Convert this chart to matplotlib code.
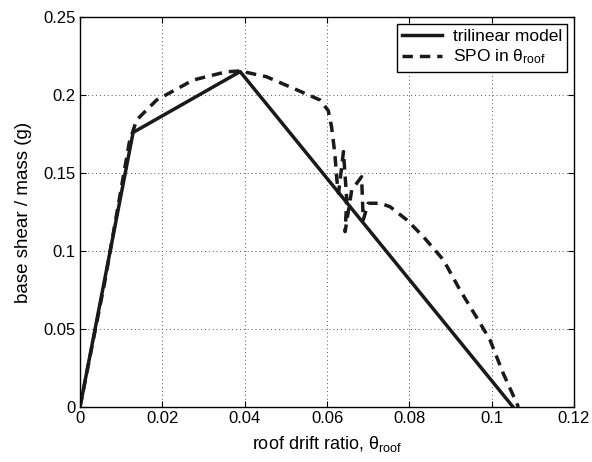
import matplotlib
matplotlib.use("Agg")
import matplotlib.pyplot as plt

plt.rcParams['font.family'] = ['Liberation Sans', 'DejaVu Sans']
plt.rcParams['mathtext.fontset'] = 'custom'
plt.rcParams['mathtext.rm'] = 'Liberation Sans'
plt.rcParams['mathtext.it'] = 'Liberation Sans'

tri_x = [0.0, 0.0129, 0.0389, 0.1052]
tri_y = [0.0, 0.176, 0.2150, 0.0]

spo_x = [0.0, 0.0060, 0.0120, 0.01376, 0.01862, 0.0275, 0.0356, 0.0389, 0.0453, 0.0518,
         0.0583, 0.0603, 0.0611, 0.0619, 0.0624, 0.0628, 0.0640, 0.0648, 0.0644,
         0.0660, 0.0684, 0.0688, 0.0700, 0.0729, 0.0753, 0.0794, 0.0834, 0.0883,
         0.0923, 0.0972, 0.0996, 0.1028, 0.1065]
spo_y = [0.0, 0.080, 0.170, 0.184, 0.1968, 0.2096, 0.2149, 0.2154, 0.2117, 0.2043,
         0.1968, 0.1900, 0.1797, 0.1626, 0.1455, 0.1370, 0.1637, 0.1327, 0.1124,
         0.1390, 0.1476, 0.1199, 0.1306, 0.1306, 0.1284, 0.1199, 0.1092, 0.0942,
         0.0750, 0.0537, 0.0429, 0.0216, 0.0]

xticks = [0, 0.02, 0.04, 0.06, 0.08, 0.1, 0.12]
xticklabels = ['0', '0.02', '0.04', '0.06', '0.08', '0.1', '0.12']
yticks = [0, 0.05, 0.1, 0.15, 0.2, 0.25]
yticklabels = ['0', '0.05', '0.1', '0.15', '0.2', '0.25']

fig = plt.figure(figsize=(5.92, 4.62), dpi=100)
ax = fig.add_axes([80/592, 55/462, 494/592, 390/462])

ax.plot(tri_x, tri_y, color='#1a1a1a', lw=2.5, label='trilinear model')
ax.plot(spo_x, spo_y, color='#1a1a1a', lw=2.5, ls=(0, (3, 2.0)), label=r'SPO in $\theta_{\rm roof}$')

ax.set_xlim(0, 0.12)
ax.set_ylim(0, 0.25)
ax.set_xticks(xticks)
ax.set_xticklabels(xticklabels)
ax.set_yticks(yticks)
ax.set_yticklabels(yticklabels)
ax.grid(True, ls=(0, (1, 3)), color='#555555', lw=0.7)
ax.tick_params(direction='in', top=True, right=True, labelsize=12, length=4, width=0.8, pad=3)
for s in ax.spines.values():
    s.set_linewidth(1.0)

ax.set_xlabel(r'roof drift ratio, $\theta_{\rm roof}$', fontsize=13, labelpad=6)
ax.set_ylabel('base shear / mass (g)', fontsize=13.5, labelpad=8)

leg = ax.legend(loc='upper right', fontsize=12.5, frameon=True, fancybox=False,
                edgecolor='black', framealpha=1, handlelength=2.3,
                borderaxespad=0.4, borderpad=0.3, labelspacing=0.2, handletextpad=0.6)
leg.get_frame().set_linewidth(1.0)

fig.savefig('out.png', dpi=100)
